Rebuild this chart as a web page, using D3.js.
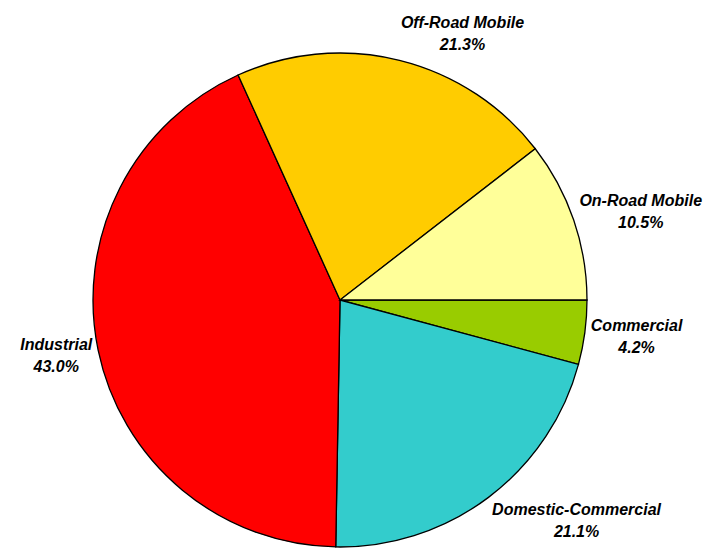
<!DOCTYPE html>
<html>
<head>
<meta charset="utf-8">
<script src="https://cdn.jsdelivr.net/npm/d3@7"></script>
<style>
  body { margin: 0; background: #fff; }
  text { font-family: "Liberation Sans", Arial, sans-serif; font-weight: bold; font-style: italic; }
</style>
</head>
<body>
<div id="chart"></div>
<script>
// slices in drawing order, clockwise from 3 o'clock
var categories = ["Commercial", "Domestic-Commercial", "Industrial", "Off-Road Mobile", "On-Road Mobile"];
var values = [4.2, 21.1, 43.0, 21.3, 10.5];
var colors = ["#99CC00", "#33CCCC", "#FF0000", "#FFCC00", "#FFFF99"];

var width = 713, height = 550;
var cx = 340, cy = 300, r = 247;

var svg = d3.select("#chart").append("svg")
    .attr("width", width)
    .attr("height", height);

var data = categories.map(function(c, i) { return { name: c, value: values[i], color: colors[i] }; });

var pie = d3.pie()
    .sort(null)
    .value(function(d) { return d.value; })
    .startAngle(Math.PI / 2)
    .endAngle(Math.PI / 2 + 2 * Math.PI);

var arc = d3.arc().innerRadius(0).outerRadius(r);

var g = svg.append("g").attr("transform", "translate(" + cx + "," + cy + ")");

var arcs = pie(data);

g.selectAll("path")
    .data(arcs)
    .enter()
    .append("path")
    .attr("d", arc)
    .attr("fill", function(d) { return d.data.color; })
    .attr("stroke", "#000")
    .attr("stroke-width", 1.3);

// labels: anchor just outside the rim, box pushed away from the pie
var lineGap = 22, fontSize = 16;
arcs.forEach(function(d) {
    var mid = (d.startAngle + d.endAngle) / 2;
    // d3 angle 0 is 12 o'clock -> convert to screen coords
    var dx = Math.sin(mid), dy = -Math.cos(mid);
    var px = (r + 6) * dx, py = (r + 6) * dy;

    var t = g.append("text")
        .attr("text-anchor", "middle")
        .style("font-size", fontSize + "px");
    var l1 = t.append("tspan").text(d.data.name);
    var l2 = t.append("tspan").text(d.data.value.toFixed(1) + "%");
    var w = Math.max(l1.node().getComputedTextLength(), l2.node().getComputedTextLength());
    var h = lineGap * 2;

    var bx = px + (dx >= 0 ? 1 : -1) * w / 2;
    var by = py + dy * h / 2;

    l1.attr("x", bx).attr("y", by - lineGap / 2 + fontSize * 0.36);
    l2.attr("x", bx).attr("y", by + lineGap / 2 + fontSize * 0.36);
});
</script>
</body>
</html>
